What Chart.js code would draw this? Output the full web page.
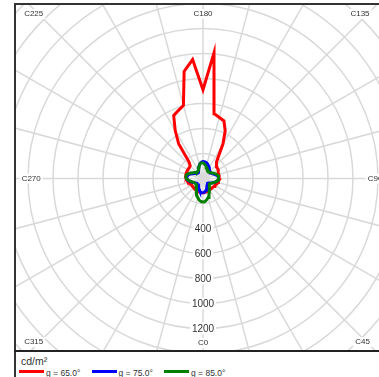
<!DOCTYPE html>
<html>
<head>
<meta charset="utf-8">
<script src="https://cdn.jsdelivr.net/npm/chart.js@4.4.0/dist/chart.umd.min.js"></script>
<style>
  html, body { margin: 0; padding: 0; background: #fff; overflow: hidden; }
  body { width: 379px; height: 377px; position: relative; font-family: "Liberation Sans", Arial, sans-serif; }
  #frame { position: absolute; left: 14px; top: 3px; width: 400px; height: 380px; border-left: 2px solid #333; border-top: 2px solid #333; }
  #sep { position: absolute; left: 14px; top: 350px; width: 400px; height: 2px; background: #222; }
  #diagram { position: absolute; left: 16px; top: 5px; }
  #unit { position: absolute; left: 21px; top: 355px; font-size: 10.5px; color: #333; }
  #legend { position: absolute; left: 19px; top: 368px; display: flex; }
  .item { width: 72.5px; display: flex; align-items: center; font-size: 8.5px; color: #333; white-space: nowrap; }
  .swatch { width: 25px; height: 3px; margin-right: 2px; margin-top: -4px; }
</style>
</head>
<body>
<div id="frame"></div>
<canvas id="diagram" width="376" height="345"></canvas>
<div id="sep"></div>
<div id="unit">cd/m²</div>
<div id="legend"></div>
<script>
// C-plane angles (degrees) shared by all three curves
const cAngles = [
  0, 5, 10, 15, 20, 25, 30, 35, 40, 45, 50, 55,
  60, 65, 70, 75, 80, 85, 90, 95, 100, 105, 110, 115,
  120, 125, 130, 135, 140, 145, 150, 155, 160, 165, 170, 175,
  180, 185, 190, 195, 200, 205, 210, 215, 220, 225, 230, 235,
  240, 245, 250, 255, 260, 265, 270, 275, 280, 285, 290, 295,
  300, 305, 310, 315, 320, 325, 330, 335, 340, 345, 350, 355
];

// luminance in cd/m² per C-plane
const lum65 = [
  115, 115, 110, 110, 105, 105, 105, 105, 105, 105, 105, 110,
  110, 115, 120, 125, 125, 130, 130, 130, 130, 130, 130, 135,
  140, 140, 145, 150, 170, 215, 320, 420, 490, 505, 525, 1010,
  710, 955, 870, 605, 578, 555, 445, 340, 175, 145, 140, 140,
  140, 140, 140, 140, 140, 140, 135, 130, 125, 120, 115, 110,
  105, 105, 105, 105, 105, 105, 105, 110, 110, 110, 115, 115
];
const lum75 = [
  115, 112, 105, 95, 85, 75, 65, 60, 57, 55, 57, 62,
  70, 80, 92, 105, 115, 122, 125, 123, 118, 108, 97, 88,
  82, 78, 76, 78, 83, 90, 98, 108, 118, 126, 132, 135,
  135, 132, 124, 112, 98, 84, 72, 64, 60, 60, 63, 70,
  80, 92, 106, 118, 126, 130, 130, 124, 112, 100, 88, 78,
  70, 64, 60, 58, 60, 64, 70, 80, 92, 102, 110, 114
];
const lum85 = [
  190, 185, 172, 157, 140, 118, 100, 88, 78, 70, 68, 70,
  75, 83, 93, 105, 115, 122, 125, 125, 122, 115, 106, 97,
  88, 80, 74, 70, 70, 72, 76, 82, 90, 98, 108, 118,
  125, 127, 122, 110, 96, 84, 76, 72, 70, 70, 74, 82,
  92, 104, 118, 130, 137, 138, 134, 122, 108, 96, 86, 78,
  74, 72, 72, 75, 82, 92, 104, 122, 143, 160, 175, 185
];

const seriesNames = ["g = 65.0°", "g = 75.0°", "g = 85.0°"];
const seriesColors = ["#ff0000", "#0000ff", "#008000"];

const ringValues = [200, 400, 600, 800, 1000, 1200, 1400, 1600, 1800, 2000, 2200, 2400, 2600];
const tickLabels = [400, 600, 800, 1000, 1200];
const spokeStep = 15;

// scale: pixels per cd/m², and where the pole sits inside the canvas
const PX_PER_UNIT = 0.125;
const POLE_X = 187, POLE_Y = 173.5;
const W = 376, H = 345;

// C0 points down, C90 right, C180 up, C270 left
function toXY(values) {
  const pts = values.map((v, i) => {
    const a = cAngles[i] * Math.PI / 180;
    return { x: v * Math.sin(a), y: -v * Math.cos(a) };
  });
  pts.push(pts[0]);
  return pts;
}

const polarGrid = {
  id: "polarGrid",
  beforeDatasetsDraw(chart) {
    const { ctx, chartArea, scales } = chart;
    const cx = scales.x.getPixelForValue(0);
    const cy = scales.y.getPixelForValue(0);
    const k = scales.x.getPixelForValue(1000) - cx;
    ctx.save();
    ctx.beginPath();
    ctx.rect(chartArea.left, chartArea.top, chartArea.right - chartArea.left, chartArea.bottom - chartArea.top);
    ctx.clip();
    ctx.strokeStyle = "#d9d9d9";
    ctx.lineWidth = 1.5;
    ringValues.forEach(v => {
      ctx.beginPath();
      ctx.arc(cx, cy, v * k / 1000, 0, Math.PI * 2);
      ctx.stroke();
    });
    const far = 3000 * k / 1000;
    for (let c = 0; c < 360; c += spokeStep) {
      const a = c * Math.PI / 180;
      ctx.beginPath();
      ctx.moveTo(cx, cy);
      ctx.lineTo(cx + far * Math.sin(a), cy + far * Math.cos(a));
      ctx.stroke();
    }

    // radial tick labels along C0
    ctx.font = "10px 'Liberation Sans', Arial, sans-serif";
    ctx.textAlign = "center";
    ctx.textBaseline = "middle";
    tickLabels.forEach(v => {
      const y = cy + v * k / 1000;
      const txt = String(v);
      const w = ctx.measureText(txt).width;
      ctx.fillStyle = "#fff";
      ctx.fillRect(cx - w / 2 - 2, y - 6, w + 4, 12);
      ctx.fillStyle = "#333";
      ctx.fillText(txt, cx, y + 1);
    });

    // C-plane labels near the frame edges
    ctx.font = "8px 'Liberation Sans', Arial, sans-serif";
    const l = chartArea.left, t = chartArea.top;
    const cLabels = [
      ["C180", cx, t + 9], ["C135", l + 344, t + 9], ["C225", l + 17.7, t + 9],
      ["C270", l + 15.2, cy], ["C90", l + 359, cy],
      ["C315", l + 17.7, t + 337], ["C0", cx, t + 338], ["C45", l + 346.5, t + 337]
    ];
    cLabels.forEach(([txt, x, y]) => {
      const w = ctx.measureText(txt).width;
      ctx.fillStyle = "#fff";
      ctx.fillRect(x - w / 2 - 2, y - 5, w + 4, 10);
      ctx.fillStyle = "#333";
      ctx.fillText(txt, x, y);
    });
    ctx.restore();
  }
};

const seriesData = [lum65, lum75, lum85];

new Chart(document.getElementById("diagram"), {
  type: "scatter",
  data: {
    datasets: seriesData.map((vals, i) => ({
      label: seriesNames[i],
      data: toXY(vals),
      showLine: true,
      borderColor: seriesColors[i],
      backgroundColor: seriesColors[i],
      borderWidth: 3,
      pointRadius: 0,
      tension: 0,
      order: 3 - i
    }))
  },
  options: {
    responsive: false,
    animation: false,
    layout: { padding: 0 },
    plugins: { legend: { display: false }, tooltip: { enabled: false } },
    scales: {
      x: { type: "linear", display: false, min: -POLE_X / PX_PER_UNIT, max: (W - POLE_X) / PX_PER_UNIT },
      y: { type: "linear", display: false, min: -(H - POLE_Y) / PX_PER_UNIT, max: POLE_Y / PX_PER_UNIT }
    }
  },
  plugins: [polarGrid]
});

// legend row
const legend = document.getElementById("legend");
seriesNames.forEach((name, i) => {
  const item = document.createElement("div");
  item.className = "item";
  item.innerHTML = '<span class="swatch" style="background:' + seriesColors[i] + '"></span>' + name;
  legend.appendChild(item);
});
</script>
</body>
</html>
